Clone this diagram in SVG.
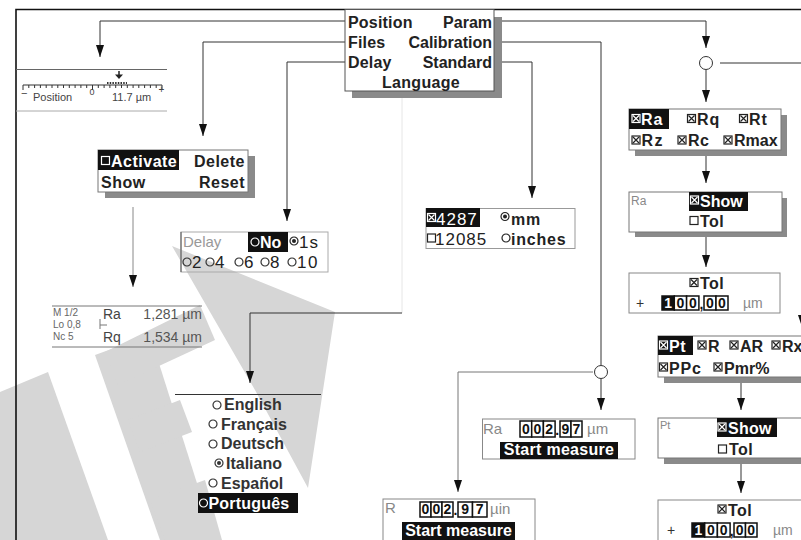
<svg xmlns="http://www.w3.org/2000/svg" xmlns:xlink="http://www.w3.org/1999/xlink" width="801" height="540" viewBox="0 0 801 540">
<style>
.t{font-family:"Liberation Sans",Arial,sans-serif;font-weight:bold;font-size:16px;fill:#222}
.tw{font-family:"Liberation Sans",Arial,sans-serif;font-weight:bold;font-size:16px;fill:#fff}
.r{font-family:"Liberation Sans",Arial,sans-serif;font-size:17px;fill:#222;letter-spacing:1px}
.g{font-family:"Liberation Sans",Arial,sans-serif;font-size:14px;fill:#888}
.sm{font-family:"Liberation Sans",Arial,sans-serif;font-size:10px;fill:#666}
.d{font-family:"Liberation Sans",Arial,sans-serif;font-weight:bold;font-size:14px;fill:#111;text-anchor:middle}
.dw{font-family:"Liberation Sans",Arial,sans-serif;font-weight:bold;font-size:14px;fill:#fff;text-anchor:middle}
.box{fill:#fff;stroke:#777;stroke-width:1}
.sh{fill:#8a8a8a}
.hl{fill:#111}
.cell{fill:#fff;stroke:#111;stroke-width:1.5}
.cellb{fill:#111;stroke:#111;stroke-width:1.5}
.wm{fill:#d6d6d6}
#conn path{fill:none;stroke:#333;stroke-width:1}
</style>
<defs>
<marker id="ah" viewBox="0 0 12 8" refX="12" refY="4" markerWidth="12" markerHeight="8" markerUnits="userSpaceOnUse" orient="auto">
<path d="M0,0 L12,4 L0,8 z" fill="#111"/>
</marker>
<g id="xb" fill="none" stroke-width="1.2"><rect x="-4" y="-4" width="8" height="8"/><path d="M-3,-3 L3,3 M3,-3 L-3,3"/></g>
<g id="cb" fill="none" stroke-width="1.2"><rect x="-4" y="-4" width="8" height="8"/></g>
<g id="rb" fill="none" stroke-width="1.2"><circle r="4"/></g>
<g id="rf" stroke-width="1.2"><circle r="4" fill="none"/><circle r="2" stroke="none"/></g>
</defs>
<rect x="0" y="0" width="801" height="540" fill="#fff"/>

<g id="watermark">
<polygon class="wm" points="0,392 48,372 108,540 0,540"/>
<polygon class="wm" points="95,355 150,335 215,540 160,540"/>
<polygon class="wm" points="105,352 200,305 215,340 118,385"/>
<polygon class="wm" points="128,420 180,400 192,432 140,452"/>
<polygon class="wm" points="150,500 205,480 222,540 165,540"/>
<polygon class="wm" points="172,246 335,312 308,488 255,390"/>
</g>

<g id="frame">
<path d="M16,540 L16,9.5 L801,9.5" fill="none" stroke="#111" stroke-width="1.6"/>
</g>

<g id="conn">
<path d="M345,21 L100,21 L100,57" marker-end="url(#ah)"/>
<path d="M345,42 L203,42 L203,136" marker-end="url(#ah)"/>
<path d="M345,62 L287,62 L287,221" marker-end="url(#ah)"/>
<path d="M494,21 L706,21 L706,48" marker-end="url(#ah)"/>
<circle cx="706" cy="63" r="6.5" fill="#fff" stroke="#333"/>
<path d="M706,70 L706,102" marker-end="url(#ah)"/>
<path d="M720,63 L802,63 L802,327" marker-end="url(#ah)"/>
<path d="M494,42 L601,42 L601,365"/>
<circle cx="601" cy="372" r="6.5" fill="#fff" stroke="#333"/>
<path d="M601,379 L601,410" marker-end="url(#ah)"/>
<path d="M593,372 L458,372 L458,492" marker-end="url(#ah)" style="stroke:#777"/>
<path d="M494,62 L532,62 L532,198" marker-end="url(#ah)"/>
<path d="M402,92 L402,313" style="stroke:#e6e6e6"/>
<path d="M402,313 L250,313 L250,383" marker-end="url(#ah)"/>
<path d="M133,207 L133,287" marker-end="url(#ah)" style="stroke:#888"/>
<path d="M706,156 L706,183" marker-end="url(#ah)"/>
<path d="M706,237 L706,267" marker-end="url(#ah)"/>
<path d="M741,383 L741,410" marker-end="url(#ah)"/>
<path d="M741,464 L741,493" marker-end="url(#ah)"/>
</g>

<g id="menu">
<rect class="sh" x="352" y="17" width="150" height="81"/>
<rect class="box" x="345" y="9.5" width="149" height="81.5" style="stroke:#555"/>
<text class="t" x="348" y="28" style="letter-spacing:0.2px">Position</text>
<text class="t" x="492" y="28" text-anchor="end">Param</text>
<text class="t" x="348" y="48" style="letter-spacing:0.2px">Files</text>
<text class="t" x="492" y="48" text-anchor="end">Calibration</text>
<text class="t" x="348" y="68" style="letter-spacing:0.2px">Delay</text>
<text class="t" x="492" y="68" text-anchor="end">Standard</text>
<text class="t" x="421" y="88" text-anchor="middle" style="letter-spacing:0.3px">Language</text>
</g>

<g id="position">
<path d="M16,69.5 L167,69.5" stroke="#666" fill="none"/>
<path d="M16,111 L167,111" stroke="#aaa" fill="none"/>
<path d="M23,85 L162,85" stroke="#333" fill="none"/>
<path d="M23,85v5 M28.8,85v3 M34.6,85v3 M40.4,85v3 M46.2,85v3 M52,85v3 M57.8,85v3 M63.5,85v3 M69.3,85v3 M75.1,85v3 M80.9,85v3 M86.7,85v3 M92.5,85v5 M98.3,85v3 M104.1,85v3 M109.9,85v3 M115.7,85v3 M121.5,85v3 M127.3,85v3 M133.1,85v3 M138.8,85v3 M144.6,85v3 M150.4,85v3 M156.2,85v3 M162,85v5" stroke="#333" fill="none"/>
<path d="M107,83 L127,83" stroke="#333" stroke-width="2" stroke-dasharray="1.5,1.2" fill="none"/>
<path d="M119,71 L119,75" stroke="#222" stroke-width="1.5"/>
<path d="M115,74.5 L123,74.5 L119,79 z" fill="#222"/>
<text class="sm" x="21" y="97" style="font-size:11px;fill:#444">−</text>
<text class="sm" x="33" y="101" style="font-size:11px;fill:#444">Position</text>
<text class="sm" x="89.5" y="94.5" style="font-size:9px;fill:#444">0</text>
<text class="sm" x="112" y="101" style="font-size:11px;fill:#444">11.7 µm</text>
<text class="sm" x="158.5" y="93" style="font-size:10px;fill:#444">+</text>
</g>

<g id="files">
<rect class="sh" x="105" y="156" width="150" height="42"/>
<rect class="box" x="98" y="150" width="150" height="42"/>
<rect class="hl" x="98" y="150" width="81" height="20"/>
<use xlink:href="#cb" x="105.5" y="160.5" stroke="#fff"/>
<text class="tw" x="111" y="167" style="letter-spacing:0.5px">Activate</text>
<text class="t" x="245" y="167" text-anchor="end" style="letter-spacing:0.5px">Delete</text>
<text class="t" x="101" y="188" style="letter-spacing:0.5px">Show</text>
<text class="t" x="245" y="188" text-anchor="end" style="letter-spacing:0.5px">Reset</text>
</g>

<g id="delay">
<rect x="181" y="232" width="147" height="40" fill="none" stroke="#aaa"/>
<path d="M181,232 L181,272" stroke="#555"/>
<text class="g" x="183" y="247" style="font-size:15px;fill:#999">Delay</text>
<rect class="hl" x="248" y="232" width="40" height="20"/>
<use xlink:href="#rb" x="255" y="242" stroke="#fff"/>
<text class="tw" x="260" y="248">No</text>
<use xlink:href="#rf" x="294" y="241" stroke="#222" fill="#222"/>
<text class="r" x="299" y="248">1s</text>
<use xlink:href="#rb" x="187" y="262" stroke="#333"/>
<text class="r" x="192" y="268">2</text>
<use xlink:href="#rb" x="210" y="262" stroke="#333"/>
<text class="r" x="215" y="268">4</text>
<use xlink:href="#rb" x="239" y="262" stroke="#333"/>
<text class="r" x="244" y="268">6</text>
<use xlink:href="#rb" x="265" y="262" stroke="#333"/>
<text class="r" x="270" y="268">8</text>
<use xlink:href="#rb" x="292" y="262" stroke="#333"/>
<text class="r" x="297" y="268" style="letter-spacing:1.5px">10</text>
</g>

<g id="result">
<path d="M52,306 L202,306 M52,347 L202,347" stroke="#777" fill="none"/>
<text class="sm" x="53" y="316">M 1/2</text>
<text class="sm" x="53" y="328">Lo 0,8</text>
<text class="sm" x="53" y="340">Nc 5</text>
<path d="M100,319 L100,329 M100,325 L107,325" stroke="#777" fill="none"/>
<text class="g" x="103" y="319" style="fill:#444">Ra</text>
<text class="g" x="103" y="342" style="fill:#444">Rq</text>
<text class="g" x="202" y="319" text-anchor="end" style="fill:#555">1,281 µm</text>
<text class="g" x="202" y="342" text-anchor="end" style="fill:#555">1,534 µm</text>
</g>

<g id="language">
<path d="M175,394.5 L321,394.5" stroke="#333" fill="none"/>
<use xlink:href="#rb" x="217" y="405" stroke="#333"/>
<text class="t" x="224" y="410" style="fill:#333">English</text>
<use xlink:href="#rb" x="213" y="424" stroke="#333"/>
<text class="t" x="221" y="429.5" style="fill:#333">Français</text>
<use xlink:href="#rb" x="213" y="444" stroke="#333"/>
<text class="t" x="221" y="449" style="fill:#333">Deutsch</text>
<use xlink:href="#rf" x="219" y="463" stroke="#333" fill="#333"/>
<text class="t" x="226" y="468.5" style="fill:#333">Italiano</text>
<use xlink:href="#rb" x="213" y="483" stroke="#333"/>
<text class="t" x="221" y="488.5" style="fill:#333">Español</text>
<rect class="hl" x="198" y="493" width="100" height="20"/>
<use xlink:href="#rb" x="203.5" y="503" stroke="#fff"/>
<text class="tw" x="208.5" y="509" style="letter-spacing:0.2px">Português</text>
</g>

<g id="standard">
<rect class="box" x="426" y="208.5" width="149" height="40" style="stroke:#999"/>
<rect class="hl" x="426" y="208" width="54" height="19"/>
<use xlink:href="#xb" x="431.5" y="217.5" stroke="#fff"/>
<text class="r" x="436" y="224.5" style="fill:#fff">4287</text>
<use xlink:href="#rf" x="505" y="216.5" stroke="#222" fill="#222"/>
<text class="t" x="511" y="224.5" style="letter-spacing:0.8px">mm</text>
<use xlink:href="#cb" x="431.5" y="238" stroke="#222"/>
<text class="r" x="435" y="244.5">12085</text>
<use xlink:href="#rb" x="506" y="238" stroke="#222"/>
<text class="t" x="511" y="244.5" style="letter-spacing:0.8px">inches</text>
</g>

<g id="params">
<rect class="sh" x="635" y="115" width="152" height="41"/>
<rect class="box" x="629" y="109" width="152" height="41"/>
<rect class="hl" x="629" y="109" width="40" height="20"/>
<use xlink:href="#xb" x="636" y="118.5" stroke="#fff"/>
<text class="tw" x="641" y="125" style="letter-spacing:1px">Ra</text>
<use xlink:href="#xb" x="691.5" y="118.5" stroke="#222"/>
<text class="t" x="697" y="125" style="letter-spacing:1px">Rq</text>
<use xlink:href="#xb" x="743.5" y="118.5" stroke="#222"/>
<text class="t" x="749" y="125" style="letter-spacing:1px">Rt</text>
<use xlink:href="#xb" x="636" y="140" stroke="#222"/>
<text class="t" x="641.5" y="146" style="letter-spacing:1.5px">Rz</text>
<use xlink:href="#xb" x="682" y="140" stroke="#222"/>
<text class="t" x="688" y="146" style="letter-spacing:0.5px">Rc</text>
<use xlink:href="#xb" x="728" y="140" stroke="#222"/>
<text class="t" x="734" y="146">Rmax</text>
</g>

<g id="ra-show">
<rect class="sh" x="635" y="198" width="152" height="39"/>
<rect class="box" x="629" y="192" width="153" height="40"/>
<text class="g" x="631" y="205" style="font-size:12px">Ra</text>
<rect class="hl" x="689" y="192" width="59" height="19"/>
<use xlink:href="#xb" x="694.5" y="200" stroke="#fff"/>
<text class="tw" x="700" y="207">Show</text>
<use xlink:href="#cb" x="694" y="220.5" stroke="#222"/>
<text class="t" x="700" y="227" style="letter-spacing:0.5px">Tol</text>
</g>

<g id="ra-tol">
<rect class="box" x="629" y="273" width="151" height="40" style="stroke:#888"/>
<use xlink:href="#xb" x="694" y="282.5" stroke="#222"/>
<text class="t" x="700" y="289" style="letter-spacing:0.5px">Tol</text>
<text class="g" x="636" y="308" style="fill:#333">+</text>
<rect class="cellb" x="662" y="296" width="12.3" height="14"/>
<text class="dw" x="668.2" y="308">1</text>
<rect class="cell" x="674.3" y="296" width="12.3" height="14"/>
<text class="d" x="680.5" y="308">0</text>
<rect class="cell" x="686.6" y="296" width="12.3" height="14"/>
<text class="d" x="692.8" y="308">0</text>
<text class="d" x="701.5" y="309">,</text>
<rect class="cell" x="704" y="296" width="12" height="14"/>
<text class="d" x="710" y="308">0</text>
<rect class="cell" x="716" y="296" width="12" height="14"/>
<text class="d" x="722" y="308">0</text>
<text class="g" x="743" y="308">µm</text>
</g>

<g id="pt">
<rect class="sh" x="664" y="342" width="140" height="41"/>
<rect class="box" x="658" y="336" width="150" height="41"/>
<rect class="hl" x="658" y="336" width="35" height="19"/>
<use xlink:href="#xb" x="663.5" y="345" stroke="#fff"/>
<text class="tw" x="669" y="352" style="letter-spacing:0.5px">Pt</text>
<use xlink:href="#xb" x="702" y="345" stroke="#222"/>
<text class="t" x="708" y="352">R</text>
<use xlink:href="#xb" x="734" y="345" stroke="#222"/>
<text class="t" x="740" y="352">AR</text>
<use xlink:href="#xb" x="776" y="345" stroke="#222"/>
<text class="t" x="782" y="352">Rx</text>
<use xlink:href="#xb" x="663.5" y="367" stroke="#222"/>
<text class="t" x="669" y="374" style="letter-spacing:0.8px">PPc</text>
<use xlink:href="#xb" x="718" y="367" stroke="#222"/>
<text class="t" x="724" y="374">Pmr%</text>
</g>

<g id="pt-show">
<rect class="sh" x="664" y="424" width="140" height="40"/>
<rect class="box" x="658" y="418" width="150" height="40"/>
<text class="g" x="660" y="429" style="font-size:11px">Pt</text>
<rect class="hl" x="717" y="418" width="60" height="19"/>
<use xlink:href="#xb" x="722" y="427" stroke="#fff"/>
<text class="tw" x="728" y="434" style="letter-spacing:0.3px">Show</text>
<use xlink:href="#cb" x="722.5" y="449" stroke="#222"/>
<text class="t" x="729" y="455" style="letter-spacing:0.5px">Tol</text>
</g>

<g id="pt-tol">
<rect class="box" x="658" y="500" width="150" height="45" style="stroke:#888"/>
<use xlink:href="#xb" x="722" y="509" stroke="#222"/>
<text class="t" x="728" y="516" style="letter-spacing:0.5px">Tol</text>
<text class="g" x="667" y="535" style="fill:#333">+</text>
<rect class="cellb" x="692" y="523" width="12.7" height="14"/>
<text class="dw" x="698.3" y="535">1</text>
<rect class="cell" x="704.7" y="523" width="12.7" height="14"/>
<text class="d" x="711" y="535">0</text>
<rect class="cell" x="717.4" y="523" width="12.7" height="14"/>
<text class="d" x="723.7" y="535">0</text>
<text class="d" x="731.8" y="536">,</text>
<rect class="cell" x="734" y="523" width="11.5" height="14"/>
<text class="d" x="739.7" y="535">0</text>
<rect class="cell" x="745.5" y="523" width="11.5" height="14"/>
<text class="d" x="751.2" y="535">0</text>
<text class="g" x="773" y="535">µm</text>
</g>

<g id="ra-measure">
<rect class="box" x="482.5" y="419" width="152.5" height="40" style="stroke:#888"/>
<text class="g" x="483" y="434" style="font-size:15px">Ra</text>
<rect class="cell" x="520" y="421" width="11.7" height="16"/>
<text class="d" x="525.8" y="434">0</text>
<rect class="cell" x="531.7" y="421" width="11.7" height="16"/>
<text class="d" x="537.5" y="434">0</text>
<rect class="cell" x="543.4" y="421" width="11.7" height="16"/>
<text class="d" x="549.2" y="434">2</text>
<text class="d" x="557.3" y="435">.</text>
<rect class="cell" x="560" y="421" width="11" height="16"/>
<text class="d" x="565.5" y="434">9</text>
<rect class="cell" x="571" y="421" width="11" height="16"/>
<text class="d" x="576.5" y="434">7</text>
<text class="g" x="587" y="434" style="font-size:15px">µm</text>
<rect class="hl" x="500" y="442" width="118" height="17"/>
<text class="tw" x="559" y="455" text-anchor="middle" style="letter-spacing:0.3px">Start measure</text>
</g>

<g id="r-measure">
<rect class="box" x="383" y="499" width="152" height="45" style="stroke:#888"/>
<text class="g" x="385" y="513" style="font-size:15px">R</text>
<rect class="cell" x="420" y="502" width="11" height="15"/>
<text class="d" x="425.5" y="514">0</text>
<rect class="cell" x="431" y="502" width="11" height="15"/>
<text class="d" x="436.5" y="514">0</text>
<rect class="cell" x="442" y="502" width="11" height="15"/>
<text class="d" x="447.5" y="514">2</text>
<text class="d" x="455.5" y="515">.</text>
<rect class="cell" x="458" y="502" width="14.5" height="15"/>
<text class="d" x="465.2" y="514">9</text>
<rect class="cell" x="472.5" y="502" width="14.5" height="15"/>
<text class="d" x="479.7" y="514">7</text>
<text class="g" x="490" y="514" style="font-size:15px">µin</text>
<rect class="hl" x="402" y="522" width="113" height="18"/>
<text class="tw" x="458.5" y="536" text-anchor="middle">Start measure</text>
</g>
</svg>
